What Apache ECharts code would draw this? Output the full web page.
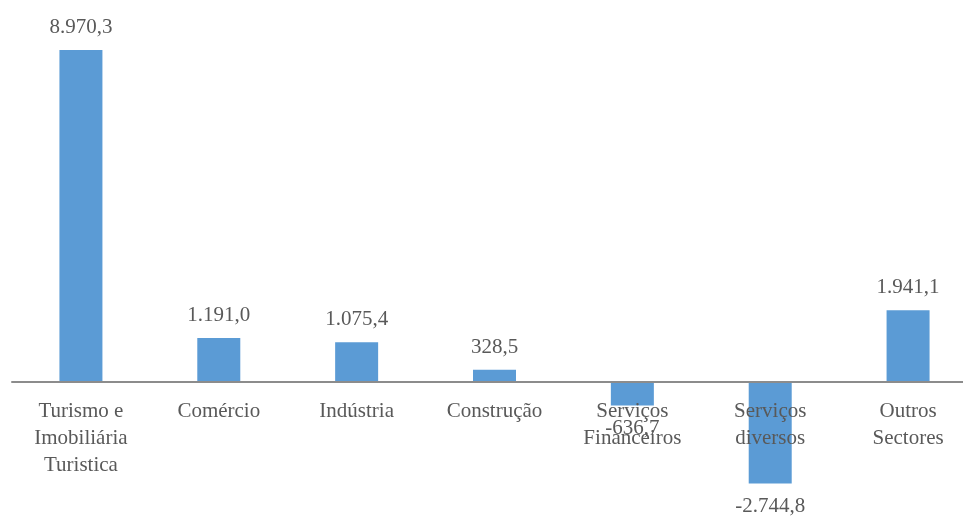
<!DOCTYPE html>
<html>
<head>
<meta charset="utf-8">
<script src="https://cdn.jsdelivr.net/npm/echarts@6/dist/echarts.min.js"></script>
<style>
  html, body { margin: 0; padding: 0; background: #ffffff; }
  #chart { width: 963px; height: 522px; }
</style>
</head>
<body>
<div id="chart"></div>
<script>
// Sector categories (line breaks as shown under the axis)
const categories = [
  'Turismo e\nImobiliária\nTuristica',
  'Comércio',
  'Indústria',
  'Construção',
  'Serviços\nFinanceiros',
  'Serviços\ndiversos',
  'Outros\nSectores'
];

// Values per sector
const values = [8970.3, 1191.0, 1075.4, 328.5, -636.7, -2744.8, 1941.1];

// Value axis range
const axisMin = -3000;
const axisMax = 9000;

// Portuguese number format: "." for thousands, "," for decimals
function fmtPt(v) {
  const neg = v < 0;
  const parts = Math.abs(v).toFixed(1).split('.');
  const intPart = parts[0].replace(/\B(?=(\d{3})+(?!\d))/g, '.');
  return (neg ? '-' : '') + intPart + ',' + parts[1];
}

const textColor = '#595959';
const fontFamily = '"Liberation Serif", "DejaVu Serif", serif';
const gridTop = 49;
const gridBottom = 29;
const chartHeight = 522;

const chart = echarts.init(document.getElementById('chart'));
const option = {
  animation: false,
  backgroundColor: '#ffffff',
  grid: {
    left: 12, right: -14, top: gridTop, bottom: gridBottom,
    containLabel: false, outerBoundsMode: 'none'
  },
  xAxis: {
    type: 'category',
    data: categories,
    offset: 0,
    z: 5,
    axisLine: { onZero: false, lineStyle: { color: '#8c8c8c', width: 2 } },
    axisTick: { show: false },
    axisLabel: {
      interval: 0,
      margin: 16,
      color: textColor,
      fontFamily: fontFamily,
      fontSize: 21,
      lineHeight: 27
    }
  },
  yAxis: {
    type: 'value',
    min: axisMin,
    max: axisMax,
    show: false,
    splitLine: { show: false }
  },
  series: [{
    type: 'bar',
    barWidth: 43,
    itemStyle: { color: '#5b9bd5' },
    data: values.map(v => ({
      value: v,
      label: { position: v < 0 ? 'bottom' : 'top' }
    })),
    label: {
      show: true,
      distance: 12,
      color: textColor,
      fontFamily: fontFamily,
      fontSize: 21,
      formatter: p => fmtPt(p.value)
    }
  }]
};
chart.setOption(option);

// Move the category axis (line and labels) up to the zero baseline
const zeroY = chart.convertToPixel({ yAxisIndex: 0 }, 0);
const bottomY = chartHeight - gridBottom;
chart.setOption({ xAxis: { offset: zeroY - bottomY } });
</script>
</body>
</html>
